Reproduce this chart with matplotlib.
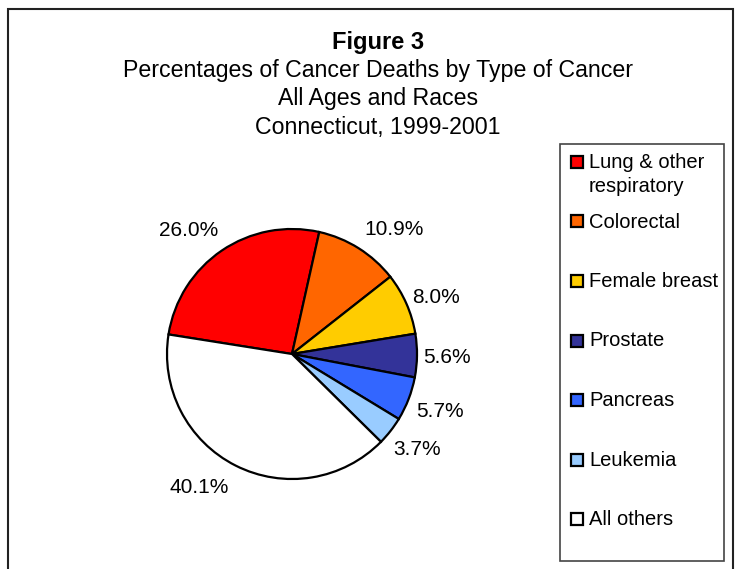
import matplotlib
matplotlib.use("Agg")
import matplotlib.pyplot as plt
from matplotlib.patches import Rectangle
import numpy as np

plt.rcParams['font.family'] = ['Liberation Sans', 'DejaVu Sans']

categories = ["Lung & other\nrespiratory", "Colorectal", "Female breast", "Prostate",
              "Pancreas", "Leukemia", "All others"]
percents = [26.0, 10.9, 8.0, 5.6, 5.7, 3.7, 40.1]
colors = ["#FF0000", "#FF6600", "#FFCC00", "#333399", "#3366FF", "#99CCFF", "#FFFFFF"]
title_lines = ["Percentages of Cancer Deaths by Type of Cancer",
               "All Ages and Races", "Connecticut, 1999-2001"]
# where Excel put each percent label: distance (pie radii) and turn off mid-angle (deg)
label_dist = [1.29, 1.29, 1.24, 1.24, 1.27, 1.26, 1.30]
label_turn = [5.7, -7.0, -2.3, -0.5, 0.0, 0.8, -8.0]

W, H = 738, 569
fig = plt.figure(figsize=(W / 100, H / 100), dpi=100)

def fx(px):
    return px / W

def fy(py):
    return 1 - py / H

# outer chart frame (bottom edge falls off the picture)
fig.patches.append(Rectangle((fx(8), -0.02), fx(733) - fx(8), fy(9) + 0.02,
                             transform=fig.transFigure, fill=False,
                             edgecolor="#222222", linewidth=1.5))

# title
fig.text(fx(378), fy(42), "Figure 3", ha="center", va="center",
         fontsize=17, fontweight="bold")
for i, line in enumerate(title_lines):
    fig.text(fx(378), fy(71 + 28 * i), line, ha="center", va="center", fontsize=16.7)

# pie
ax = fig.add_axes([fx(167), fy(479), fx(250), 250 / H])
wedges, texts, autotexts = ax.pie(percents, colors=colors, startangle=171,
                                  counterclock=False, autopct="%.1f%%",
                                  wedgeprops=dict(edgecolor="black", linewidth=1.6),
                                  textprops=dict(fontsize=15))
for w, t, d, turn in zip(wedges, autotexts, label_dist, label_turn):
    ang = np.deg2rad((w.theta1 + w.theta2) / 2 + turn)
    t.set_position((d * np.cos(ang), d * np.sin(ang)))
ax.set_xlim(-1, 1)
ax.set_ylim(-1, 1)
ax.set_aspect("equal")

# legend box
fig.patches.append(Rectangle((fx(560), fy(561)), fx(724) - fx(560), fy(144) - fy(561),
                             transform=fig.transFigure, fill=False,
                             edgecolor="#444444", linewidth=1.2))
for i, (lab, col) in enumerate(zip(categories, colors)):
    yc = 162 + 59.5 * i
    fig.patches.append(Rectangle((fx(571), fy(yc + 6)), fx(12), 12 / H,
                                 transform=fig.transFigure, facecolor=col,
                                 edgecolor="black", linewidth=1.6))
    fig.text(fx(589), fy(yc - 9), lab, ha="left", va="top", fontsize=14.5,
             linespacing=1.35)

fig.savefig("out.png", dpi=100)
